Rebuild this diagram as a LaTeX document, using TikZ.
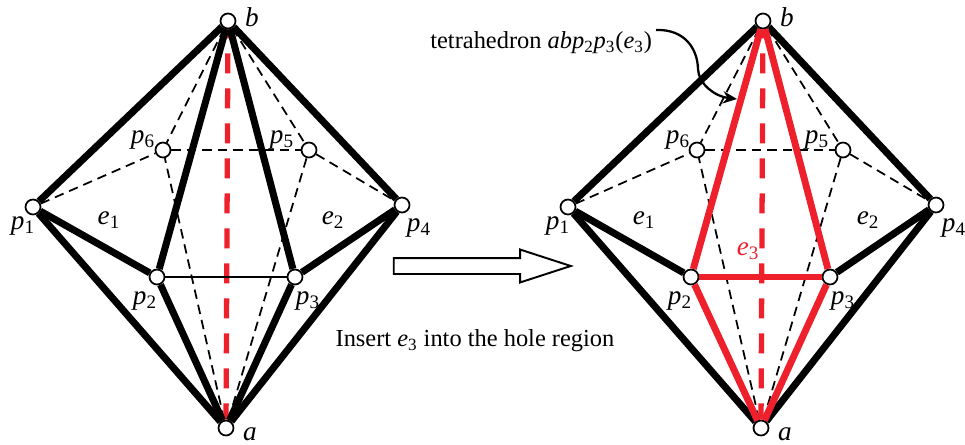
\documentclass[tikz,border=0pt]{standalone}
\usepackage{fontspec}
\setmainfont{Liberation Serif}
\usetikzlibrary{arrows.meta,positioning,shapes.arrows}
\definecolor{edgeRed}{RGB}{237,32,44}
\newcommand{\vname}[2]{\textit{#1}\textsubscript{#2}}
\tikzset{
  vtx/.style={circle,draw=black,fill=white,line width=1pt,minimum size=0.3cm,inner sep=0pt},
  lbl/.style={font=\fontsize{15.5}{18}\selectfont,inner sep=0pt},
  capt/.style={font=\fontsize{13.9}{16}\selectfont,inner sep=0pt},
  hidden/.style={black,line width=1pt,dash pattern=on 0.19cm off 0.12cm},
  solidedge/.style={black,line width=4pt},
  thinedge/.style={black,line width=1.7pt},
  redsolid/.style={edgeRed,line width=3.9pt},
  reddash/.style={edgeRed,line width=3pt,dash pattern=on 0.4cm off 0.3cm,dash phase=0.22cm},
}
\begin{document}
\begin{tikzpicture}
\useasboundingbox (0,0) rectangle (19.3,8.88);

%--- Left: hole before insertion ---
\begin{scope}[name prefix=L]
  \node[vtx] (b) at (4.56,8.46) {};
  \node[vtx] (a) at (4.52,0.32) {};
  \node[vtx] (p1) at (0.66,4.74) {};
  \node[vtx] (p2) at (3.14,3.34) {};
  \node[vtx] (p3) at (5.90,3.34) {};
  \node[vtx] (p4) at (8.04,4.78) {};
  \node[vtx] (p5) at (6.18,5.88) {};
  \node[vtx] (p6) at (3.26,5.88) {};
  % hidden edges
  \draw[hidden] (p1) -- (p6);
  \draw[hidden] (p6) -- (p5);
  \draw[hidden] (p5) -- (p4);
  \draw[hidden] (b) -- (p6);
  \draw[hidden] (b) -- (p5);
  \draw[hidden] (a) -- (p6);
  \draw[hidden] (a) -- (p5);
  \draw[reddash] (b) -- (a);
  % visible edges
  \draw[solidedge] (b) -- (p1);
  \draw[solidedge] (b) -- (p2);
  \draw[solidedge] (b) -- (p3);
  \draw[solidedge] (b) -- (p4);
  \draw[solidedge] (a) -- (p1);
  \draw[solidedge] (a) -- (p2);
  \draw[solidedge] (a) -- (p3);
  \draw[solidedge] (a) -- (p4);
  \draw[solidedge] (p1) -- (p2);
  \draw[solidedge] (p3) -- (p4);
  \draw[thinedge] (p2) -- (p3);
  % labels
  \node[lbl] (tb) at (5.04,8.54) {\textit{b}};
  \node[lbl] (ta) at (5.00,0.2) {\textit{a}};
  \node[lbl] (t1) at (0.46,4.36) {\vname{p}{1}};
  \node[lbl] (t2) at (2.90,2.86) {\vname{p}{2}};
  \node[lbl] (t3) at (6.16,2.86) {\vname{p}{3}};
  \node[lbl] (t4) at (8.38,4.32) {\vname{p}{4}};
  \node[lbl] (t5) at (5.64,6.08) {\vname{p}{5}};
  \node[lbl] (t6) at (2.86,6.08) {\vname{p}{6}};
  \node[lbl] (te1) at (2.18,4.48) {\vname{e}{1}};
  \node[lbl] (te2) at (6.66,4.48) {\vname{e}{2}};
\end{scope}

%--- Right: after insertion ---
\begin{scope}[xshift=10.7cm,name prefix=R]
  \node[vtx] (b) at (4.56,8.46) {};
  \node[vtx] (a) at (4.52,0.32) {};
  \node[vtx] (p1) at (0.66,4.74) {};
  \node[vtx] (p2) at (3.12,3.34) {};
  \node[vtx] (p3) at (5.90,3.34) {};
  \node[vtx] (p4) at (8.02,4.78) {};
  \node[vtx] (p5) at (6.16,5.88) {};
  \node[vtx] (p6) at (3.24,5.88) {};
  % hidden edges
  \draw[hidden] (p1) -- (p6);
  \draw[hidden] (p6) -- (p5);
  \draw[hidden] (p5) -- (p4);
  \draw[hidden] (b) -- (p6);
  \draw[hidden] (b) -- (p5);
  \draw[hidden] (a) -- (p6);
  \draw[hidden] (a) -- (p5);
  \draw[reddash] (b) -- (a);
  % visible edges
  \draw[solidedge] (b) -- (p1);
  \draw[solidedge] (b) -- (p4);
  \draw[solidedge] (a) -- (p1);
  \draw[solidedge] (a) -- (p4);
  \draw[solidedge] (p1) -- (p2);
  \draw[solidedge] (p3) -- (p4);
  \draw[redsolid] (b) -- (p2);
  \draw[redsolid] (b) -- (p3);
  \draw[redsolid] (a) -- (p2);
  \draw[redsolid] (a) -- (p3);
  \draw[redsolid] (p2) -- (p3);
  % labels
  \node[lbl] (tb) at (5.04,8.54) {\textit{b}};
  \node[lbl] (ta) at (5.00,0.2) {\textit{a}};
  \node[lbl] (t1) at (0.46,4.36) {\vname{p}{1}};
  \node[lbl] (t2) at (2.90,2.86) {\vname{p}{2}};
  \node[lbl] (t3) at (6.16,2.86) {\vname{p}{3}};
  \node[lbl] (t4) at (8.38,4.32) {\vname{p}{4}};
  \node[lbl] (t5) at (5.64,6.08) {\vname{p}{5}};
  \node[lbl] (t6) at (2.86,6.08) {\vname{p}{6}};
  \node[lbl] (te1) at (2.18,4.48) {\vname{e}{1}};
  \node[lbl] (te2) at (6.66,4.48) {\vname{e}{2}};
  \node[lbl,edgeRed] (te3) at (4.26,3.86) {\vname{e}{3}};
\end{scope}

%--- Insert arrow and captions ---
\node[draw=black,fill=white,line width=1.1pt,single arrow,single arrow head extend=0.17cm,
      minimum height=3.54cm,inner xsep=0pt,inner ysep=0.14cm,
      single arrow tip angle=36,single arrow head indent=0pt] (insarrow) at (9.40,3.56) {};
\node[capt] (instext) at (9.5,2.06) {Insert \vname{e}{3} into the hole region};
\node[capt,anchor=west] (tetra) at (8.6,8.02) {tetrahedron \textit{abp}\textsubscript{2}\textit{p}\textsubscript{3}(\vname{e}{3})};
\coordinate (tetrafrom) at (13.12,8.28);
\coordinate (tetramid) at (13.96,7.5);
\coordinate (tetrato) at (14.74,6.90);
\draw[-{Stealth[length=8pt,width=7pt]},line width=1.3pt] (tetrafrom) .. controls (13.7,8.3) and (13.95,7.9) .. (tetramid) .. controls (13.97,7.2) and (14.3,6.95) .. (tetrato);

\end{tikzpicture}
\end{document}
